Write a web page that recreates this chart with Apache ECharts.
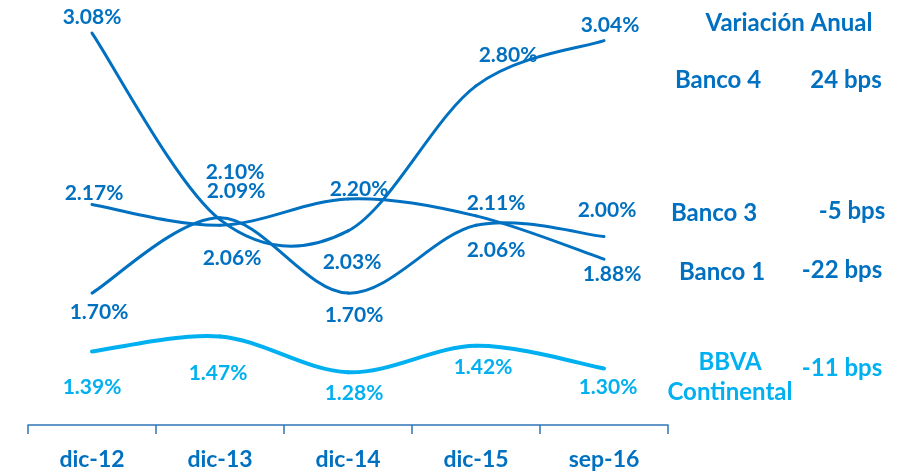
<!DOCTYPE html>
<html>
<head>
<meta charset="utf-8">
<title>Tasa de interés</title>
<script src="https://cdn.jsdelivr.net/npm/echarts@6/dist/echarts.min.js"></script>
<style>
  html, body { margin: 0; padding: 0; background: #ffffff; }
  #chart { width: 900px; height: 476px; }
</style>
</head>
<body>
<div id="chart"></div>
<script>
// Periods on the horizontal axis
const categories = ['dic-12', 'dic-13', 'dic-14', 'dic-15', 'sep-16'];

// Rates (%) for each bank
const banco4 = [3.08, 2.09, 2.03, 2.80, 3.04];
const bancoA = [2.17, 2.06, 2.20, 2.11, 1.88];
const bancoB = [1.70, 2.10, 1.70, 2.06, 2.00];
const bbva   = [1.39, 1.47, 1.28, 1.42, 1.30];

// Annual change annotations on the right
const seriesNames = ['Banco 4', 'Banco 3', 'Banco 1'];
const annualChange = ['24 bps', '-5 bps', '-22 bps', '-11 bps'];

// Label offsets (px) from each point to the centre of its value label
const offs4   = [[0, -16], [16, -28], [4, 31], [32, -31], [6, -15]];
const offsA   = [[2, -11], [12, 33], [11, -10], [20, -13], [8, 15]];
const offsB   = [[7, 19], [15, -46], [6, 22], [20, 25], [3, -26]];
const offsBB  = [[0, 36], [-2, 37], [6, 21], [7, 21], [4, 19]];

const DARK = '#0070C0';
const LIGHT = '#00B0F0';
const FONT = 'Lato';

// Smoothed line drawn as Catmull-Rom style cubic segments between points,
// each point placed through the chart's own coordinate system.
function smoothSeries(name, values, offsets, color, width) {
  return {
    name: name,
    type: 'custom',
    coordinateSystem: 'cartesian2d',
    encode: { x: 0, y: 1 },
    data: values.map((v, i) => [i, v]),
    renderItem: function (params, api) {
      const i = params.dataIndex;
      const n = values.length;
      const P = k => api.coord([Math.max(0, Math.min(n - 1, k)), values[Math.max(0, Math.min(n - 1, k))]]);
      const p0 = P(i - 1), p1 = P(i), p2 = P(i + 1), p3 = P(i + 2);
      const children = [];
      if (i < n - 1) {
        children.push({
          type: 'bezierCurve',
          shape: {
            x1: p1[0], y1: p1[1],
            cpx1: p1[0] + (p2[0] - p0[0]) / 6, cpy1: p1[1] + (p2[1] - p0[1]) / 6,
            cpx2: p2[0] - (p3[0] - p1[0]) / 6, cpy2: p2[1] - (p3[1] - p1[1]) / 6,
            x2: p2[0], y2: p2[1]
          },
          style: { stroke: color, lineWidth: width, fill: null, lineCap: 'round' }
        });
      }
      children.push({
        type: 'text',
        z2: 10,
        style: {
          x: p1[0] + offsets[i][0],
          y: p1[1] + offsets[i][1],
          text: values[i].toFixed(2) + '%',
          fill: color,
          font: 'bold 21px ' + FONT,
          align: 'center',
          verticalAlign: 'middle'
        }
      });
      return { type: 'group', children: children };
    },
    silent: true,
    z: 2
  };
}

function txt(x, y, text, color) {
  return {
    type: 'text',
    x: x, y: y,
    style: {
      text: text,
      fill: color,
      font: 'bold 24px ' + FONT,
      align: 'center',
      verticalAlign: 'middle'
    }
  };
}

const chart = echarts.init(document.getElementById('chart'), null, { renderer: 'canvas' });

chart.setOption({
  animation: false,
  backgroundColor: '#ffffff',
  grid: { left: 28, right: 232, top: 10.5, bottom: 51 },
  xAxis: {
    type: 'category',
    data: categories,
    boundaryGap: true,
    axisLine: { show: true, lineStyle: { color: '#2E75B6', width: 1.5 } },
    axisTick: { show: true, length: 9, lineStyle: { color: '#2E75B6', width: 1.5 } },
    axisLabel: {
      color: DARK,
      fontFamily: FONT,
      fontWeight: 'bold',
      fontSize: 23,
      margin: 23
    },
    splitLine: { show: false }
  },
  yAxis: {
    type: 'value',
    min: 1.0,
    max: 3.2,
    show: false,
    splitLine: { show: false }
  },
  series: [
    smoothSeries(seriesNames[0], banco4, offs4, DARK, 3),
    smoothSeries(seriesNames[1], bancoA, offsA, DARK, 3),
    smoothSeries(seriesNames[2], bancoB, offsB, DARK, 3),
    smoothSeries('BBVA Continental', bbva, offsBB, LIGHT, 4)
  ],
  graphic: [
    txt(789, 23, 'Variación Anual', DARK),
    txt(718, 80, seriesNames[0], DARK),
    txt(846, 80, annualChange[0], DARK),
    txt(714, 213, seriesNames[1], DARK),
    txt(852, 211, annualChange[1], DARK),
    txt(722, 272, seriesNames[2], DARK),
    txt(842, 270, annualChange[2], DARK),
    txt(730, 362, 'BBVA', LIGHT),
    txt(730, 392, 'Continental', LIGHT),
    txt(842, 368, annualChange[3], LIGHT)
  ]
});
</script>
</body>
</html>
